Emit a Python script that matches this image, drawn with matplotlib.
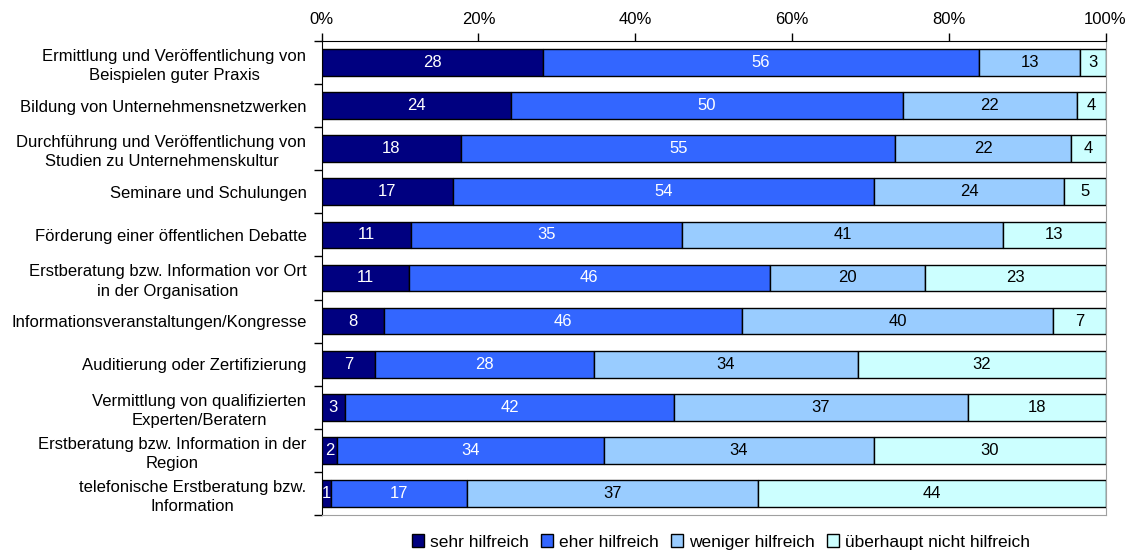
import matplotlib
matplotlib.use("Agg")
import matplotlib.pyplot as plt
import numpy as np
from matplotlib.ticker import FixedLocator, FuncFormatter

plt.rcParams['font.family'] = ['Liberation Sans', 'DejaVu Sans']

categories = [
    "Ermittlung und Veröffentlichung von\nBeispielen guter Praxis",
    "Bildung von Unternehmensnetzwerken",
    "Durchführung und Veröffentlichung von\nStudien zu Unternehmenskultur",
    "Seminare und Schulungen",
    "Förderung einer öffentlichen Debatte",
    "Erstberatung bzw. Information vor Ort\nin der Organisation",
    "Informationsveranstaltungen/Kongresse",
    "Auditierung oder Zertifizierung",
    "Vermittlung von qualifizierten\nExperten/Beratern",
    "Erstberatung bzw. Information in der\nRegion",
    "telefonische Erstberatung bzw.\nInformation",
]
series_names = ["sehr hilfreich", "eher hilfreich", "weniger hilfreich", "überhaupt nicht hilfreich"]
sehr = [28.2, 24.1, 17.8, 16.7, 11.4, 11.1, 8.0, 6.8, 3.0, 2.0, 1.2]
eher = [55.7, 50.0, 55.4, 53.8, 34.6, 46.1, 45.6, 27.9, 42.0, 34.0, 17.4]
weniger = [12.8, 22.3, 22.4, 24.2, 40.9, 19.8, 39.7, 33.7, 37.4, 34.4, 37.1]
nicht = [3.3, 3.6, 4.4, 5.3, 13.1, 23.0, 6.7, 31.6, 17.6, 29.6, 44.3]
x_ticks = [0, 20, 40, 60, 80, 100]

colors = ["#000080", "#3366FF", "#99CCFF", "#CCFFFF"]
text_colors = ["white", "white", "black", "black"]

fig = plt.figure(figsize=(11.31, 5.54), dpi=100)
ax = fig.add_axes([0.2844, 0.0704, 0.6931, 0.8556])

data = np.array([sehr, eher, weniger, nicht])
n = len(categories)
y = np.arange(n)
left = np.zeros(n)
for i, (vals, name) in enumerate(zip(data, series_names)):
    bars = ax.barh(y, vals, left=left, height=0.62, color=colors[i],
                   edgecolor="black", linewidth=1.0, label=name, zorder=3)
    ax.bar_label(bars, labels=[f"{round(v):d}" for v in vals], label_type="center",
                 color=text_colors[i], fontsize=12)
    left += vals

ax.set_xlim(0, 100)
ax.set_ylim(n - 0.5, -0.5)
ax.xaxis.tick_top()
ax.xaxis.set_major_locator(FixedLocator(x_ticks))
ax.xaxis.set_major_formatter(FuncFormatter(lambda v, p: f"{v:.0f}%"))
ax.tick_params(axis="x", direction="out", length=6, width=1, labelsize=12, pad=4)

ax.set_yticks(y)
ax.set_yticklabels(categories, fontsize=12)
for lbl in ax.get_yticklabels():
    lbl.set_multialignment("center")
    lbl.set_linespacing(1.35)
ax.tick_params(axis="y", which="major", length=0, pad=11)
ax.set_yticks(np.arange(n + 1) - 0.5, minor=True)
ax.tick_params(axis="y", which="minor", direction="out", length=6, width=1)

ax.spines["top"].set_color("black")
ax.spines["left"].set_color("black")
ax.spines["right"].set_color("#A0A0A0")
ax.spines["bottom"].set_color("#A0A0A0")

handles, labels = ax.get_legend_handles_labels()
fig.legend(handles, labels, loc="center", bbox_to_anchor=(721 / 1131, 1 - 542 / 554),
           ncol=4, frameon=False, fontsize=12.5, handlelength=0.7, handleheight=0.7,
           handletextpad=0.35, columnspacing=0.7)

fig.savefig("out.png", dpi=100)
